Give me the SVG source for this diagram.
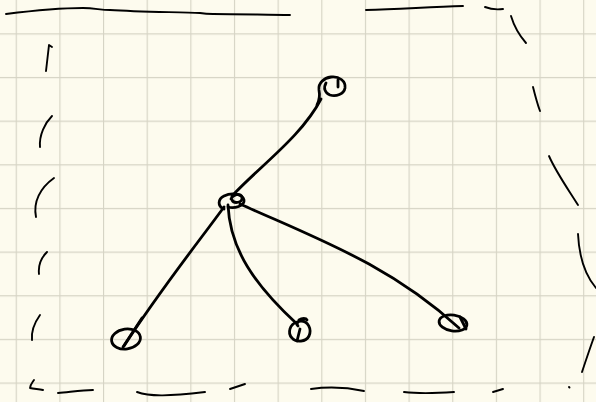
<svg xmlns="http://www.w3.org/2000/svg" width="596" height="402" viewBox="0 0 596 402">
<defs>
<pattern id="grid" x="15.7" y="33.3" width="43.65" height="43.65" patternUnits="userSpaceOnUse">
<path d="M0.5,0 V43.65 M0,0.5 H43.65" fill="none" stroke="#d6d4c5" stroke-width="1.3"/>
</pattern>
<style>
.ink{fill:none;stroke:#000;stroke-linecap:round;stroke-linejoin:round}
.frame{stroke-width:1.9}
.edge{stroke-width:2.8}
.node{stroke-width:2.8}
</style>
</defs>
<rect width="596" height="402" fill="#fdfbee"/>
<rect width="596" height="402" fill="url(#grid)"/>
<g id="frame" class="ink frame">
<path d="M6,14 C30,11 60,8 83,8 C95,8 100,10 110,10 C140,12 180,12 200,13 C206,14 210,14 213,14 C240,14 270,15 290,15"/>
<path d="M366,10 C400,9 430,7 463,6"/>
<path d="M485,7 C490,9 495,10 503,9"/>
<path d="M511,16 C514,26 519,35 526,43"/>
<path d="M533,87 C535,95 537,103 540,111"/>
<path d="M549,156 C556,172 566,186 578,205"/>
<path d="M578,234 C579,255 585,275 596,288"/>
<path d="M594,337 C590,348 586,360 582,372"/>
<path d="M569,387 L569.5,387.5"/>
<path d="M311,389 C325,387 345,387 364,391"/>
<path d="M404,392 C420,394 440,393 454,392"/>
<path d="M493,392 L503,389"/>
<path d="M34,380 C32,383 30,385 30,388 C34,389 38,389 43,390"/>
<path d="M58,393 C70,392 82,390 93,390"/>
<path d="M137,392 C150,397 170,396 205,392"/>
<path d="M230,389 L245,384"/>
<path d="M46,71 L49,45 L52,47"/>
<path d="M40,147 C39,135 45,123 52,116"/>
<path d="M36,217 C33,202 40,188 54,178"/>
<path d="M39,274 C38,265 42,257 47,252"/>
<path d="M32,340 C31,330 35,322 40,315"/>
</g>
<g id="connectors" class="ink edge">
<path d="M232,196 C260,166 302,136 321,99"/>
<path d="M224,207 C200,240 160,290 124,346"/>
<path d="M228,205 C230,250 255,285 297,324"/>
<path d="M240,204 C320,240 390,265 459,328"/>
</g>
<g id="node-top" class="ink node">
<path d="M317,105 C320,99 320,95 319,90 C318,83 324,78 331,77 C339,76 346,81 345,88 C344,94 336,97 330,95 C325,93 323,88 326,83"/>
<path d="M338,80 L338,87"/>
</g>
<g id="node-hub" class="ink node">
<path d="M224,209 C217,206 218,199 224,196 C232,192 243,194 244,200 C245,206 234,209 228,207"/>
<path d="M231,199 C233,194 240,193 242,197 C243,203 234,204 232,200"/>
</g>
<g id="node-left" class="ink node">
<ellipse cx="126" cy="339" rx="14.5" ry="10" transform="rotate(-8 126 339)"/>
<path d="M142,318 L123,347"/>
</g>
<g id="node-mid" class="ink node">
<path d="M297,322 C290,324 287,333 292,338 C296,343 306,342 309,336 C312,329 308,321 301,321 C297,321 296,324 298,326"/>
<path d="M299,320 C302,318 306,318 307,320"/>
<path d="M300,329 L297,341"/>
</g>
<g id="node-right" class="ink node">
<ellipse cx="453" cy="323" rx="14" ry="8" transform="rotate(8 453 323)"/>
<path d="M460,317 L466,329"/>
</g>
</svg>
